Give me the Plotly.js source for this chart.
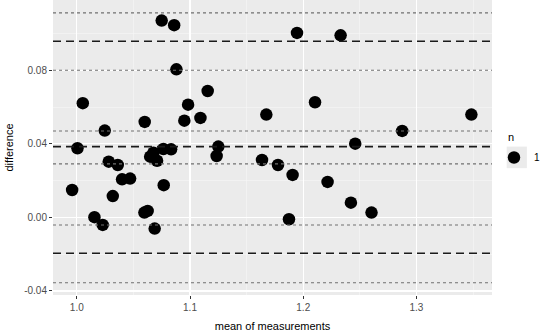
<!DOCTYPE html>
<html>
<head>
<meta charset="utf-8">
<script src="https://cdn.plot.ly/plotly-3.0.1.min.js"></script>
<style>html,body{margin:0;padding:0;background:#fff;}#chart{width:545px;height:334px;}</style>
</head>
<body>
<div id="chart"></div>
<script>
// mean of measurements
var meanVals = [0.9959, 1.0006, 1.0053, 1.0156, 1.0229, 1.0247, 1.0282, 1.0318, 1.0362, 1.0400,
  1.0471, 1.0597, 1.0600, 1.0626, 1.0648, 1.0677, 1.0688, 1.0709, 1.0750, 1.0765,
  1.0768, 1.0833, 1.0860, 1.0880, 1.0950, 1.0983, 1.1092, 1.1156, 1.1235, 1.1250,
  1.1636, 1.1674, 1.1777, 1.1874, 1.1906, 1.1945, 1.2104, 1.2215, 1.2330, 1.2421,
  1.2459, 1.2603, 1.2874, 1.3485];
// difference
var diffVals = [0.0149, 0.0376, 0.0621, 0.0001, -0.0041, 0.0472, 0.0303, 0.0116, 0.0285, 0.0207,
  0.0211, 0.0026, 0.0519, 0.0035, 0.0330, 0.0352, -0.0061, 0.0308, 0.1070, 0.0372,
  0.0175, 0.0370, 0.1045, 0.0805, 0.0526, 0.0613, 0.0541, 0.0687, 0.0334, 0.0385,
  0.0312, 0.0559, 0.0285, -0.0010, 0.0231, 0.1003, 0.0626, 0.0193, 0.0990, 0.0080,
  0.0401, 0.0026, 0.0470, 0.0559];
// bias and limits of agreement (dashed)
var dashedLines = [0.0958, 0.0385, -0.0195];
// confidence limits (dotted)
var dottedLines = [0.1112, 0.0800, 0.0470, 0.0291, -0.0041, -0.0355];
// ticks
var xTickVals = [1.0, 1.1, 1.2, 1.3];
var xTickText = ["1.0", "1.1", "1.2", "1.3"];
var yTickVals = [-0.04, 0.00, 0.04, 0.08];
var yTickText = ["-0.04", "0.00", "0.04", "0.08"];
var legendTitle = "n";
var legendLabel = "1";

var shapes = [];
dottedLines.forEach(function (v) {
  shapes.push({type: "line", xref: "paper", x0: 0, x1: 1, yref: "y", y0: v, y1: v,
    line: {color: "#707070", width: 1.1, dash: "3px,3px"}, layer: "above"});
});
dashedLines.forEach(function (v) {
  shapes.push({type: "line", xref: "paper", x0: 0, x1: 1, yref: "y", y0: v, y1: v,
    line: {color: "#1a1a1a", width: 1.6, dash: "8px,5px"}, layer: "above"});
});
// legend key background
shapes.push({type: "rect", xref: "paper", yref: "paper", x0: 1.0335, x1: 1.0795, y0: 0.43, y1: 0.503,
  fillcolor: "#ebebeb", line: {width: 0}, layer: "below"});

var trace = {
  x: meanVals, y: diffVals, type: "scatter", mode: "markers", name: legendLabel,
  marker: {color: "#000000", size: 12.5}, showlegend: true
};

var font = "Liberation Sans, Arial, sans-serif";
var layout = {
  width: 545, height: 334,
  margin: {l: 53, r: 52, t: 0, b: 39},
  paper_bgcolor: "#ffffff", plot_bgcolor: "#ebebeb",
  font: {family: font, size: 10, color: "#4d4d4d"},
  showlegend: true,
  legend: {x: 1.005, xanchor: "left", y: 0.466, yanchor: "middle", bgcolor: "rgba(0,0,0,0)",
    font: {size: 10, color: "#000"}, itemwidth: 30},
  annotations: [{text: legendTitle, xref: "paper", yref: "paper", x: 1.032, y: 0.536,
    xanchor: "left", yanchor: "middle", showarrow: false, font: {size: 11, color: "#000"}}],
  xaxis: {range: [0.979, 1.3667], tickvals: xTickVals, ticktext: xTickText,
    showgrid: true, gridcolor: "#ffffff", gridwidth: 1.1, zeroline: false,
    ticks: "outside", ticklen: 3, tickcolor: "#333333", tickwidth: 1,
    tickfont: {size: 10, color: "#4d4d4d"},
    minor: {tickvals: [1.05, 1.15, 1.25, 1.35], showgrid: true, gridcolor: "#f7f7f7", gridwidth: 0.6, ticks: ""},
    title: {text: "mean of measurements", font: {size: 11, color: "#000"}, standoff: 10},
    automargin: false, showline: false},
  yaxis: {range: [-0.0422, 0.1182], tickvals: yTickVals, ticktext: yTickText,
    showgrid: true, gridcolor: "#ffffff", gridwidth: 1.1, zeroline: false,
    ticks: "outside", ticklen: 3, tickcolor: "#333333", tickwidth: 1,
    tickfont: {size: 10, color: "#4d4d4d"},
    minor: {tickvals: [-0.02, 0.02, 0.06, 0.10], showgrid: true, gridcolor: "#f7f7f7", gridwidth: 0.6, ticks: ""},
    title: {text: "difference", font: {size: 11, color: "#000"}, standoff: 8},
    automargin: false, showline: false},
  shapes: shapes
};

Plotly.newPlot("chart", [trace], layout, {displayModeBar: false, staticPlot: true});
</script>
</body>
</html>
